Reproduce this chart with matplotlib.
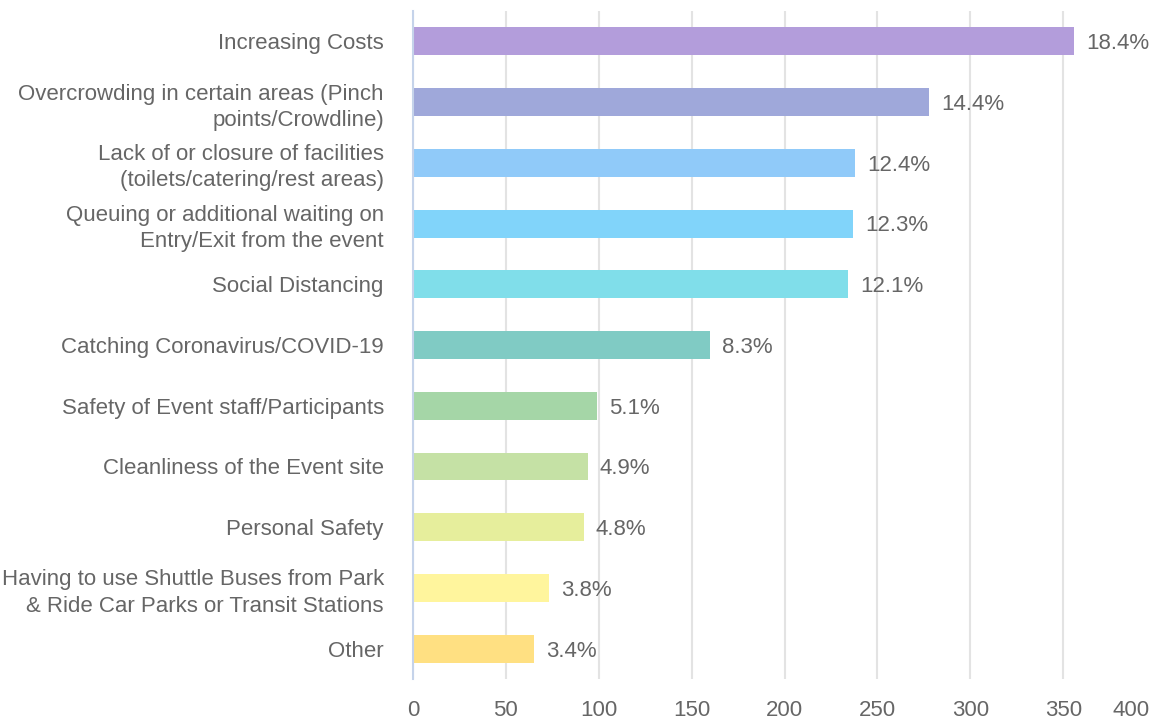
import matplotlib
matplotlib.use("Agg")
import matplotlib.pyplot as plt
import matplotlib.transforms as mtransforms
import numpy as np

plt.rcParams['font.family'] = ['Liberation Sans', 'DejaVu Sans']

# categories, top to bottom
categories = [
    'Increasing Costs',
    'Overcrowding in certain areas (Pinch\npoints/Crowdline)',
    'Lack of or closure of facilities\n(toilets/catering/rest areas)',
    'Queuing or additional waiting on\nEntry/Exit from the event',
    'Social Distancing',
    'Catching Coronavirus/COVID-19',
    'Safety of Event staff/Participants',
    'Cleanliness of the Event site',
    'Personal Safety',
    'Having to use Shuttle Buses from Park\n& Ride Car Parks or Transit Stations',
    'Other',
]
counts = [356, 278, 238, 237, 234, 160, 99, 94, 92, 73, 65]
pct_labels = ['18.4%', '14.4%', '12.4%', '12.3%', '12.1%', '8.3%',
              '5.1%', '4.9%', '4.8%', '3.8%', '3.4%']
colors = ['#b39ddb', '#9fa8da', '#90caf9', '#81d4fa', '#80deea', '#80cbc4',
          '#a5d6a7', '#c5e1a5', '#e6ee9c', '#fff59d', '#ffe082']

text_col = '#666666'
fs = 16

fig = plt.figure(figsize=(11.53, 7.2), dpi=100)
ax = fig.add_axes([0.3582, 0.0569, 0.6445, 0.9278])

y = np.arange(len(categories))
ax.barh(y, counts, height=0.46, color=colors, zorder=3)

for yi, v, lab in zip(y, counts, pct_labels):
    ax.text(v + 6.5, yi + 0.04, lab, va='center', ha='left', fontsize=fs, color=text_col, zorder=4)

ax.set_xlim(0, 400)
ax.set_ylim(len(categories) - 0.5, -0.5)
ax.set_yticks(y)
ax.set_yticklabels(categories, fontsize=fs, color=text_col, linespacing=1.32)
ax.set_xticks(np.arange(0, 401, 50))
ax.tick_params(axis='x', labelsize=fs, labelcolor=text_col, length=0, pad=15)
ax.tick_params(axis='y', length=0, pad=21)

# last tick label kept inside the figure
last = ax.get_xticklabels()[-1]
last.set_ha('right')
last.set_transform(last.get_transform() +
                   mtransforms.ScaledTranslation(-5 / 72, 0, fig.dpi_scale_trans))

ax.grid(axis='x', color='#e3e3e3', linewidth=1.5, zorder=0)
for s in ['top', 'right', 'bottom']:
    ax.spines[s].set_visible(False)
ax.spines['left'].set_color('#c5d3ea')
ax.spines['left'].set_linewidth(1.5)
ax.spines['left'].set_zorder(5)

fig.savefig('out.png', dpi=100)
